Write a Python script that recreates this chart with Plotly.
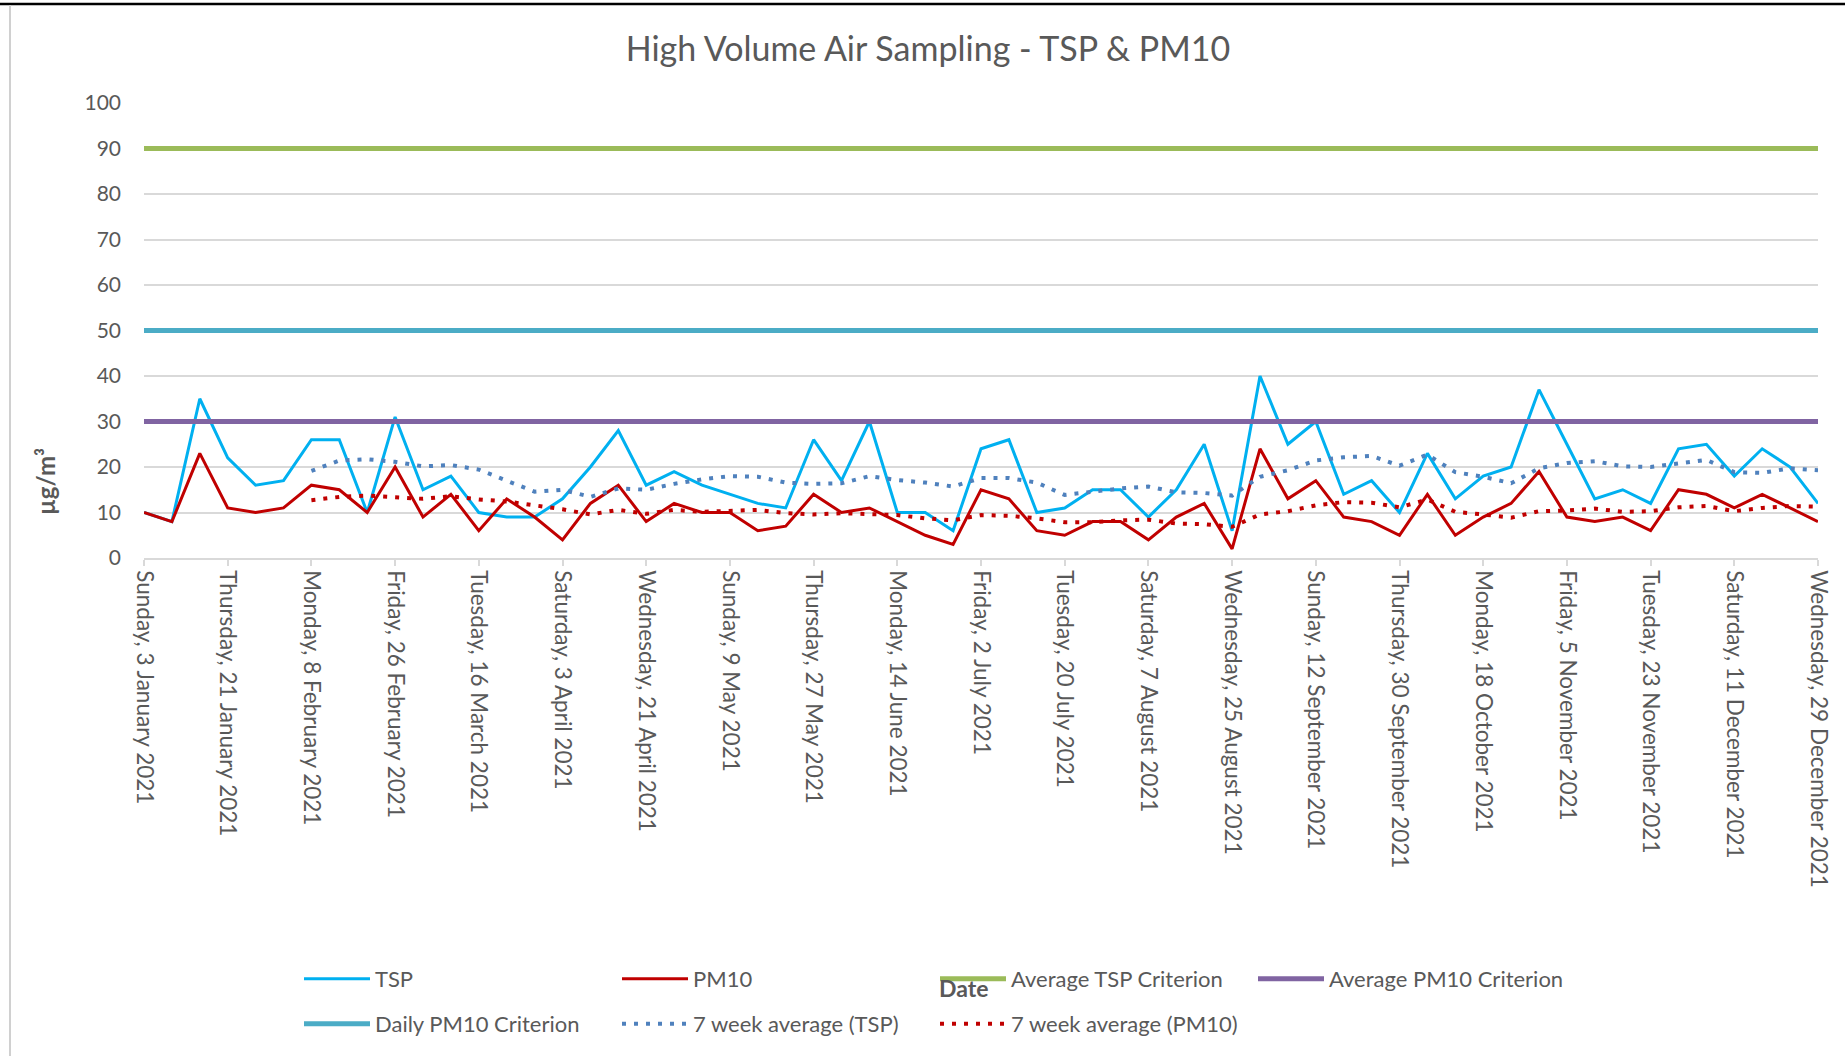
import pandas as pd
import plotly.graph_objects as go

# ---------------- data ----------------
dates = pd.date_range("2021-01-03", periods=61, freq="6D")

tsp = [10, 8, 35, 22, 16, 17, 26, 26, 10, 31,
       15, 18, 10, 9, 9, 13, 20, 28, 16, 19,
       16, 14, 12, 11, 26, 17, 30, 10, 10, 6,
       24, 26, 10, 11, 15, 15, 9, 15, 25, 6,
       40, 25, 30, 14, 17, 10, 23, 13, 18, 20,
       37, 25, 13, 15, 12, 24, 25, 18, 24, 20,
       12]

pm10 = [10, 8, 23, 11, 10, 11, 16, 15, 10, 20,
        9, 14, 6, 13, 9, 4, 12, 16, 8, 12,
        10, 10, 6, 7, 14, 10, 11, 8, 5, 3,
        15, 13, 6, 5, 8, 8, 4, 9, 12, 2,
        24, 13, 17, 9, 8, 5, 14, 5, 9, 12,
        19, 9, 8, 9, 6, 15, 14, 11, 14, 11,
        8]

avg_tsp_criterion = 90
avg_pm10_criterion = 30
daily_pm10_criterion = 50
ma_window = 7  # 7-point moving-average trendline

tick_labels = [
    "Sunday, 3 January 2021", "Thursday, 21 January 2021", "Monday, 8 February 2021",
    "Friday, 26 February 2021", "Tuesday, 16 March 2021", "Saturday, 3 April 2021",
    "Wednesday, 21 April 2021", "Sunday, 9 May 2021", "Thursday, 27 May 2021",
    "Monday, 14 June 2021", "Friday, 2 July 2021", "Tuesday, 20 July 2021",
    "Saturday, 7 August 2021", "Wednesday, 25 August 2021", "Sunday, 12 September 2021",
    "Thursday, 30 September 2021", "Monday, 18 October 2021", "Friday, 5 November 2021",
    "Tuesday, 23 November 2021", "Saturday, 11 December 2021", "Wednesday, 29 December 2021",
]
tick_vals = list(dates[::3])

# ---------------- styling ----------------
FONT = "Lato"
GREY_TXT = "#595959"
GRID = "#d9d9d9"
W, H = 1845, 1056
L, R, T, B = 144, 27, 103, 498
PW, PH = W - L - R, H - T - B


def px_x(p):
    return (p - L) / PW


def px_y(p):
    return (H - B - p) / PH


ma_tsp = pd.Series(tsp).rolling(ma_window).mean()
ma_pm10 = pd.Series(pm10).rolling(ma_window).mean()
n = len(dates)

fig = go.Figure()
fig.add_trace(go.Scatter(x=dates, y=tsp, mode="lines", name="TSP",
                         line=dict(color="#00B0F0", width=3), legend="legend"))
fig.add_trace(go.Scatter(x=dates, y=pm10, mode="lines", name="PM10",
                         line=dict(color="#C00000", width=3), legend="legend"))
fig.add_trace(go.Scatter(x=dates, y=[avg_tsp_criterion] * n, mode="lines",
                         name="Average TSP Criterion",
                         line=dict(color="#9BBB59", width=5), legend="legend"))
fig.add_trace(go.Scatter(x=dates, y=[avg_pm10_criterion] * n, mode="lines",
                         name="Average PM10 Criterion",
                         line=dict(color="#8064A2", width=5), legend="legend"))
fig.add_trace(go.Scatter(x=dates, y=[daily_pm10_criterion] * n, mode="lines",
                         name="Daily PM10 Criterion",
                         line=dict(color="#4BACC6", width=5), legend="legend2"))
fig.add_trace(go.Scatter(x=dates, y=ma_tsp, mode="lines", name="7 week average (TSP)",
                         line=dict(color="#4F81BD", width=4, dash="4px,8px"),
                         legend="legend2"))
fig.add_trace(go.Scatter(x=dates, y=ma_pm10, mode="lines", name="7 week average (PM10)",
                         line=dict(color="#C00000", width=4, dash="4px,8px"),
                         legend="legend2"))

legend_common = dict(orientation="h", xref="container", yref="container",
                     xanchor="left", yanchor="middle",
                     font=dict(family=FONT, size=22, color=GREY_TXT),
                     itemwidth=66, entrywidth=237, entrywidthmode="pixels",
                     bgcolor="rgba(0,0,0,0)", borderwidth=0, traceorder="normal",
                     itemclick=False, itemdoubleclick=False)

fig.update_layout(
    width=W, height=H,
    margin=dict(l=L, r=R, t=T, b=B, autoexpand=False),
    paper_bgcolor="white", plot_bgcolor="white",
    font=dict(family=FONT, color=GREY_TXT),
    title=dict(text="High Volume Air Sampling - TSP & PM10",
               font=dict(family=FONT, size=34, color=GREY_TXT),
               x=928 / W, xref="container", xanchor="center",
               y=1 - 49 / H, yref="container", yanchor="middle"),
    xaxis=dict(type="date", range=[dates[0], dates[-1]],
               tickmode="array", tickvals=tick_vals, ticktext=tick_labels,
               tickangle=90, tickfont=dict(family=FONT, size=22.5, color=GREY_TXT),
               showgrid=False, zeroline=False,
               showline=True, linecolor=GRID, linewidth=1.5,
               ticks="outside", ticklen=6, tickcolor=GRID, tickwidth=1.5),
    yaxis=dict(range=[0, 100], dtick=10, tick0=0,
               tickfont=dict(family=FONT, size=21, color=GREY_TXT),
               showgrid=True, gridcolor=GRID, gridwidth=1.5,
               zeroline=False, showline=False, ticks="", ticklabelstandoff=22),
    legend=dict(x=299 / W, y=1 - 979 / H, **legend_common),
    legend2=dict(x=299 / W, y=1 - 1024 / H, **legend_common),
    showlegend=True,
)

fig.add_annotation(text="<b>µg/m³</b>", x=px_x(45), y=px_y(482), xref="paper", yref="paper",
                   xanchor="center", yanchor="middle",
                   textangle=-90, showarrow=False,
                   font=dict(family=FONT, size=24, color=GREY_TXT))
fig.add_annotation(text="<b>Date</b>", x=px_x(963), y=px_y(988), xref="paper", yref="paper",
                   xanchor="center", yanchor="middle",
                   showarrow=False, font=dict(family=FONT, size=23, color=GREY_TXT))

# page frame pieces visible in the screenshot
fig.add_shape(type="line", xref="paper", yref="paper", x0=px_x(0), x1=px_x(W),
              y0=px_y(4), y1=px_y(4), line=dict(color="black", width=2.5))
fig.add_shape(type="line", xref="paper", yref="paper", x0=px_x(10), x1=px_x(10),
              y0=px_y(5), y1=px_y(H), line=dict(color="#d0d0d0", width=2))

fig.write_html("out.html", config={"displayModeBar": False},
               post_script="document.body.style.margin='0';document.documentElement.style.overflow='hidden';")
